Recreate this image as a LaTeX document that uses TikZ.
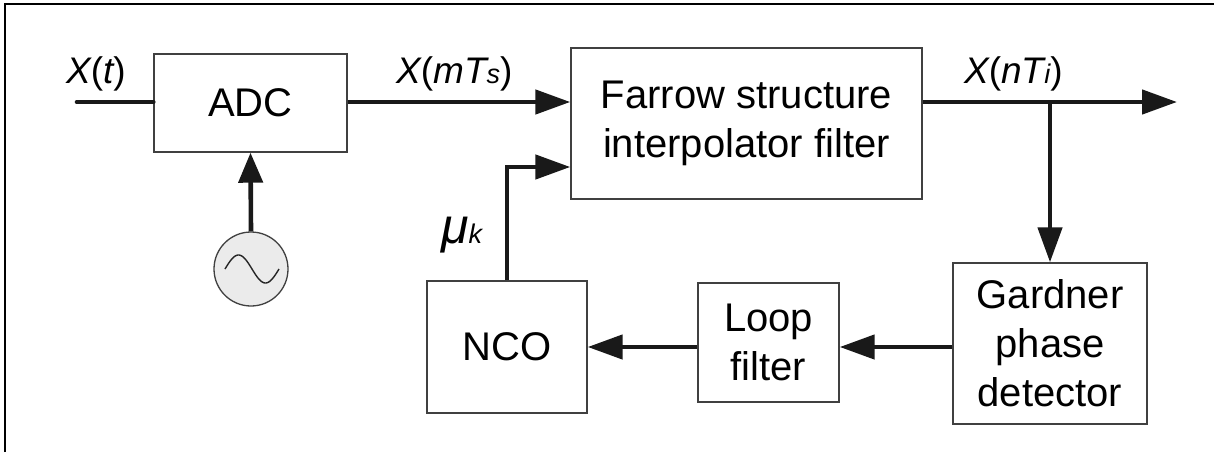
\documentclass[tikz,border=0pt]{standalone}
\usepackage{fontspec}
\setmainfont{Liberation Sans}
\usetikzlibrary{arrows.meta}
\tikzset{
  blk/.style={draw=black!75, line width=1.4pt, rectangle, inner sep=0pt, align=center,
    font=\fontsize{40}{49}\selectfont},
  sig/.style={line width=4.6pt, black!90},
  tip/.style={-{Triangle[length=35pt,width=24pt]}},
  lbl/.style={inner sep=0pt, font=\fontsize{37}{37}\selectfont\itshape},
}
\newcommand{\smallsub}[1]{{\fontsize{27}{27}\selectfont #1}}
\begin{document}
\begin{tikzpicture}[x=1pt,y=-1pt]
\useasboundingbox (0,0) rectangle (1214,452);
% frame
\draw[line width=2.2pt] (5,452) -- (5,4) -- (1214,4);
% blocks
\node[blk, minimum width=193pt, minimum height=98pt] (adc) at (250.5,103) {ADC};
\node[blk, minimum width=351pt, minimum height=151pt] (far) at (746.5,123.5) {Farrow structure\\interpolator filter};
\node[blk, minimum width=194pt, minimum height=161pt] (gar) at (1050,343.5) {Gardner\\phase\\detector};
\node[blk, minimum width=141pt, minimum height=119pt] (loop) at (768.5,342.5) {Loop\\filter};
\node[blk, minimum width=160pt, minimum height=132pt] (nco) at (507,347) {NCO};
\node[circle, draw=black!75, line width=1.3pt, fill=black!8, minimum size=74pt, inner sep=0pt] (osc) at (251,269) {};
\draw[black!85, line width=1.4pt] plot[domain=0:360, samples=60, smooth] ({225+\x/360*54}, {269-14*sin(\x)});
% coordinates
\coordinate (in) at (77,102);
\coordinate (out) at (1177,102);
\coordinate (sy) at (0,102);
\coordinate (my) at (0,167);
\coordinate (ly) at (0,347);
\coordinate (br) at (gar.north |- sy);
% connectors
\draw[sig, line cap=round] (in) -- (adc.west |- sy);
\draw[sig, tip] (adc.east |- sy) -- (far.west |- sy);
\draw[sig, tip] (far.east |- sy) -- (out);
\draw[sig, tip] (br) -- (gar.north);
\draw[sig, tip] (gar.west |- ly) -- (loop.east |- ly);
\draw[sig, tip] (loop.west |- ly) -- (nco.east |- ly);
\draw[sig, -{Triangle[length=30pt,width=24pt]}] (osc.north) -- (adc.south);
\draw[sig, tip] (nco.north) -- (nco.north |- my) -- (far.west |- my);
% labels
\node[lbl, anchor=base west] (lxt) at (66,83) {X\upshape(\itshape t\upshape)};
\node[lbl, anchor=base west] (lxm) at (396,83) {X\upshape(\itshape mT\smallsub{s}\upshape)};
\node[lbl, anchor=base west] (lxn) at (964,83) {X\upshape(\itshape nT\smallsub{i}\upshape)};
\node[lbl, anchor=base west] (lmu) at (441,243) {{\fontsize{50}{50}\selectfont μ}\smallsub{k}};
\end{tikzpicture}
\end{document}
